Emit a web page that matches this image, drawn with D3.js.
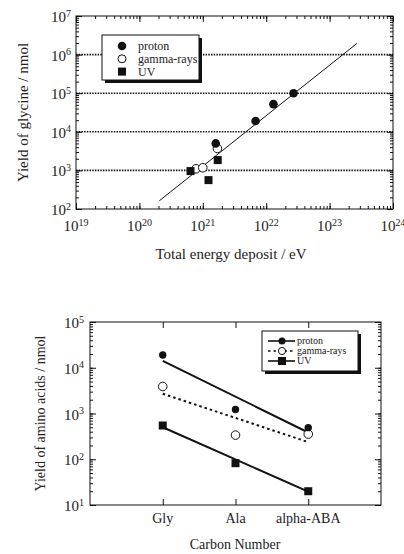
<!DOCTYPE html>
<html>
<head>
<meta charset="utf-8">
<script src="https://cdn.jsdelivr.net/npm/d3@7"></script>
<style>
  body { margin: 0; background: #fff; }
  svg text { font-family: "Liberation Serif", "DejaVu Serif", serif; fill: #222; }
</style>
</head>
<body>
<div id="chart"></div>
<script>
// ---- top chart data (yield of glycine vs total energy deposit) ----
var protonEnergy = [1.6e21, 6.8e21, 1.3e22, 2.7e22];
var protonGlycine = [5.0e3, 1.9e4, 5.2e4, 1.0e5];
var gammaEnergy = [7.8e20, 1.0e21, 1.7e21];
var gammaGlycine = [1.1e3, 1.17e3, 3.7e3];
var uvEnergy = [6.4e20, 1.23e21, 1.72e21];
var uvGlycine = [960, 560, 1.85e3];
var fitEnergy = [2.06e20, 2.7e23];
var fitGlycine = [163, 1.95e6];
var xExps = [19, 20, 21, 22, 23, 24];
var yExps = [2, 3, 4, 5, 6, 7];
var gridExps = [3, 4, 5, 6];

// ---- bottom chart data (yield of amino acids vs carbon number) ----
var acids = ["Gly", "Ala", "alpha-ABA"];
var protonAcid = [1.9e4, 1.22e3, 490];
var gammaAcid = [3.9e3, 337, 354];
var uvAcid = [546, 82, 20];
var protonFit = [1.42e4, 384];
var gammaFit = [2.7e3, 237];
var uvFit = [500, 19.6];
var y2Exps = [1, 2, 3, 4, 5];

var svg = d3.select("#chart").append("svg")
    .attr("width", 404)
    .attr("height", 554);

function powLabel(sel, exp) {
    sel.append("tspan").text("10");
    sel.append("tspan").attr("dy", "-0.55em").attr("font-size", "10px").text(exp);
}

function isDecade(v) {
    return Math.abs(Math.log10(v) - Math.round(Math.log10(v))) < 1e-9;
}

// frame with inward log ticks on left/right (and top/bottom if doX)
function logFrame(g, x, y, w, h, doX) {
    g.append("rect")
        .attr("width", w).attr("height", h)
        .attr("fill", "none").attr("stroke", "#111").attr("stroke-width", 1);
    var yMinor = y.ticks();
    var yMajor = yMinor.filter(isDecade);
    [[d3.axisLeft, 0], [d3.axisRight, w]].forEach(function (p) {
        g.append("g").attr("transform", "translate(" + p[1] + ",0)")
            .call(p[0](y).tickValues(yMinor).tickSize(-3).tickFormat(""))
            .call(function (a) { a.select(".domain").remove(); });
        g.append("g").attr("transform", "translate(" + p[1] + ",0)")
            .call(p[0](y).tickValues(yMajor).tickSize(-6).tickFormat(""))
            .call(function (a) { a.select(".domain").remove(); });
    });
    if (doX) {
        var xMinor = x.ticks();
        [[d3.axisBottom, h], [d3.axisTop, 0]].forEach(function (p) {
            g.append("g").attr("transform", "translate(0," + p[1] + ")")
                .call(p[0](x).tickValues(xMinor).tickSize(-3).tickFormat(""))
                .call(function (a) { a.select(".domain").remove(); });
            g.append("g").attr("transform", "translate(0," + p[1] + ")")
                .call(p[0](x).tickValues(xMinor.filter(isDecade)).tickSize(-6).tickFormat(""))
                .call(function (a) { a.select(".domain").remove(); });
        });
    }
    g.selectAll(".tick line").attr("stroke", "#111");
}

/////////////// TOP CHART ///////////////
var m1 = {left: 76, top: 16}, w1 = 317, h1 = 193;
var g1 = svg.append("g").attr("transform", "translate(" + m1.left + "," + m1.top + ")");
var x1 = d3.scaleLog().domain([1e19, 1e24]).range([0, w1]);
var y1 = d3.scaleLog().domain([1e2, 1e7]).range([h1, 0]);

g1.selectAll("line.grid").data(gridExps).enter().append("line")
    .attr("class", "grid")
    .attr("x1", 0).attr("x2", w1)
    .attr("y1", function (d) { return y1(Math.pow(10, d)); })
    .attr("y2", function (d) { return y1(Math.pow(10, d)); })
    .attr("stroke", "#111").attr("stroke-width", 1.6).attr("stroke-dasharray", "1.5,1.2");

logFrame(g1, x1, y1, w1, h1, true);

g1.selectAll("text.xl").data(xExps).enter().append("text")
    .attr("class", "xl")
    .attr("x", function (d) { return x1(Math.pow(10, d)); })
    .attr("y", h1 + 22)
    .attr("text-anchor", "middle").attr("font-size", "15px")
    .each(function (d) { powLabel(d3.select(this), d); });

g1.selectAll("text.yl").data(yExps).enter().append("text")
    .attr("class", "yl")
    .attr("x", -5)
    .attr("y", function (d) { return y1(Math.pow(10, d)) + 6; })
    .attr("text-anchor", "end").attr("font-size", "15px")
    .each(function (d) { powLabel(d3.select(this), d); });

g1.append("line")
    .attr("x1", x1(fitEnergy[0])).attr("y1", y1(fitGlycine[0]))
    .attr("x2", x1(fitEnergy[1])).attr("y2", y1(fitGlycine[1]))
    .attr("stroke", "#111").attr("stroke-width", 1);

g1.selectAll("circle.gam").data(d3.range(gammaEnergy.length)).enter().append("circle")
    .attr("class", "gam")
    .attr("cx", function (i) { return x1(gammaEnergy[i]); })
    .attr("cy", function (i) { return y1(gammaGlycine[i]); })
    .attr("r", 4.3).attr("fill", "#fff").attr("stroke", "#111").attr("stroke-width", 1);

g1.selectAll("circle.pro").data(d3.range(protonEnergy.length)).enter().append("circle")
    .attr("class", "pro")
    .attr("cx", function (i) { return x1(protonEnergy[i]); })
    .attr("cy", function (i) { return y1(protonGlycine[i]); })
    .attr("r", 4.3).attr("fill", "#111");

g1.selectAll("rect.uv").data(d3.range(uvEnergy.length)).enter().append("rect")
    .attr("class", "uv")
    .attr("x", function (i) { return x1(uvEnergy[i]) - 4; })
    .attr("y", function (i) { return y1(uvGlycine[i]) - 4; })
    .attr("width", 8).attr("height", 8).attr("fill", "#111");

// legend
var legNames = ["proton", "gamma-rays", "UV"];
var lg1 = g1.append("g").attr("transform", "translate(26,19)");
lg1.append("rect").attr("x", 3).attr("y", 3).attr("width", 97).attr("height", 45).attr("fill", "#111");
lg1.append("rect").attr("width", 97).attr("height", 45).attr("fill", "#fff").attr("stroke", "#111");
legNames.forEach(function (name, i) {
    var yy = 11 + i * 12.8;
    if (i === 0) lg1.append("circle").attr("cx", 20).attr("cy", yy).attr("r", 4.3).attr("fill", "#111");
    if (i === 1) lg1.append("circle").attr("cx", 20).attr("cy", yy).attr("r", 4).attr("fill", "#fff").attr("stroke", "#111");
    if (i === 2) lg1.append("rect").attr("x", 16).attr("y", yy - 4).attr("width", 8).attr("height", 8).attr("fill", "#111");
    lg1.append("text").attr("x", 36).attr("y", yy + 4).attr("font-size", "12px").text(name);
});

svg.append("text")
    .attr("transform", "translate(28," + (m1.top + h1 / 2) + ") rotate(-90)")
    .attr("text-anchor", "middle").attr("font-size", "15px")
    .text("Yield of glycine / nmol");
svg.append("text")
    .attr("x", 231).attr("y", 259)
    .attr("text-anchor", "middle").attr("font-size", "15px")
    .text("Total energy deposit / eV");

/////////////// BOTTOM CHART ///////////////
var m2 = {left: 90, top: 322}, w2 = 291, h2 = 183;
var g2 = svg.append("g").attr("transform", "translate(" + m2.left + "," + m2.top + ")");
var x2 = d3.scaleLinear().domain([0, acids.length + 1]).range([0, w2]);
var y2 = d3.scaleLog().domain([1e1, 1e5]).range([h2, 0]);

logFrame(g2, x2, y2, w2, h2, false);
[[d3.axisBottom, h2], [d3.axisTop, 0]].forEach(function (p) {
    g2.append("g").attr("transform", "translate(0," + p[1] + ")")
        .call(p[0](x2).tickValues(d3.range(1, acids.length + 1)).tickSize(-6).tickFormat(""))
        .call(function (a) { a.select(".domain").remove(); a.selectAll("line").attr("stroke", "#111"); });
});

g2.selectAll("text.cat").data(acids).enter().append("text")
    .attr("class", "cat")
    .attr("x", function (d, i) { return x2(i + 1); })
    .attr("y", h2 + 18)
    .attr("text-anchor", "middle").attr("font-size", "14px")
    .text(function (d) { return d; });

g2.selectAll("text.yl").data(y2Exps).enter().append("text")
    .attr("class", "yl")
    .attr("x", -6)
    .attr("y", function (d) { return y2(Math.pow(10, d)) + 6; })
    .attr("text-anchor", "end").attr("font-size", "15px")
    .each(function (d) { powLabel(d3.select(this), d); });

function fitLine(vals, dash) {
    g2.append("line")
        .attr("x1", x2(1)).attr("y1", y2(vals[0]))
        .attr("x2", x2(acids.length)).attr("y2", y2(vals[1]))
        .attr("stroke", "#111").attr("stroke-width", 2)
        .attr("stroke-dasharray", dash ? "2.5,3" : null);
}
fitLine(protonFit, false);
fitLine(gammaFit, true);
fitLine(uvFit, false);

g2.selectAll("circle.gam").data(gammaAcid).enter().append("circle")
    .attr("class", "gam")
    .attr("cx", function (d, i) { return x2(i + 1); })
    .attr("cy", function (d) { return y2(d); })
    .attr("r", 4.3).attr("fill", "#fff").attr("stroke", "#111").attr("stroke-width", 1);
g2.selectAll("circle.pro").data(protonAcid).enter().append("circle")
    .attr("class", "pro")
    .attr("cx", function (d, i) { return x2(i + 1); })
    .attr("cy", function (d) { return y2(d); })
    .attr("r", 3.7).attr("fill", "#111");
g2.selectAll("rect.uv").data(uvAcid).enter().append("rect")
    .attr("class", "uv")
    .attr("x", function (d, i) { return x2(i + 1) - 4; })
    .attr("y", function (d) { return y2(d) - 4; })
    .attr("width", 8).attr("height", 8).attr("fill", "#111");

var lg2 = g2.append("g").attr("transform", "translate(172,9)");
lg2.append("rect").attr("x", 3).attr("y", 3).attr("width", 96).attr("height", 40).attr("fill", "#111");
lg2.append("rect").attr("width", 96).attr("height", 40).attr("fill", "#fff").attr("stroke", "#111");
legNames.forEach(function (name, i) {
    var yy = 10 + i * 10;
    lg2.append("line").attr("x1", 6).attr("x2", 33).attr("y1", yy).attr("y2", yy)
        .attr("stroke", "#111").attr("stroke-width", 1.6)
        .attr("stroke-dasharray", i === 1 ? "2.5,3" : null);
    if (i === 0) lg2.append("circle").attr("cx", 20).attr("cy", yy).attr("r", 3.5).attr("fill", "#111");
    if (i === 1) lg2.append("circle").attr("cx", 20).attr("cy", yy).attr("r", 3.6).attr("fill", "#fff").attr("stroke", "#111");
    if (i === 2) lg2.append("rect").attr("x", 16).attr("y", yy - 4).attr("width", 8).attr("height", 8).attr("fill", "#111");
    lg2.append("text").attr("x", 35).attr("y", yy + 3).attr("font-size", "10px").text(name);
});

svg.append("text")
    .attr("transform", "translate(45," + (m2.top + h2 / 2) + ") rotate(-90)")
    .attr("text-anchor", "middle").attr("font-size", "14px")
    .text("Yield of amino acids / nmol");
svg.append("text")
    .attr("x", 235).attr("y", 549)
    .attr("text-anchor", "middle").attr("font-size", "14px")
    .text("Carbon Number");
</script>
</body>
</html>
